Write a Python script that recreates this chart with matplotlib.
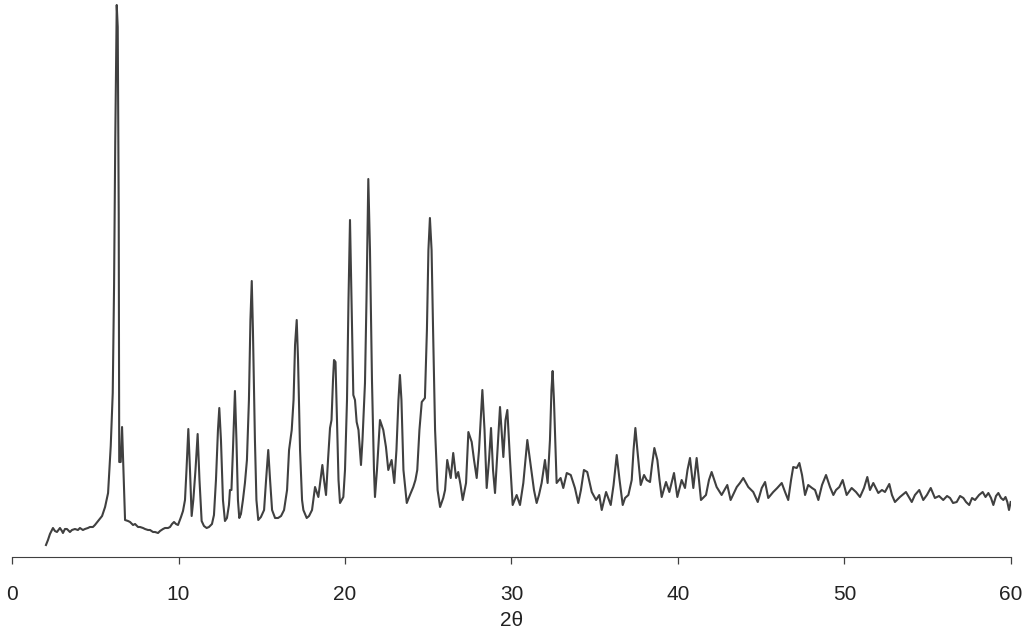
import numpy as np
import matplotlib
matplotlib.use("Agg")
import matplotlib.pyplot as plt

# powder pattern, split into 2-theta ranges
tt_a = [2.04, 2.16, 2.28, 2.46, 2.58, 2.70, 2.88, 3.00, 3.06, 3.18, 3.30, 3.48, 3.60, 3.78, 3.96,
        4.08, 4.26, 4.38, 4.56, 4.68, 4.86, 4.98, 5.17, 5.41, 5.59, 5.77, 5.93, 6.05, 6.13, 6.20,
        6.29, 6.35, 6.41, 6.44, 6.53, 6.61, 6.68, 6.79, 6.97, 7.09, 7.27, 7.39, 7.57, 7.69, 7.87,
        7.99, 8.17, 8.29, 8.47, 8.59, 8.77, 8.89, 9.07, 9.19, 9.37, 9.49, 9.61, 9.73, 9.85, 9.97]
int_a = [12, 17, 23, 29, 26, 25, 29, 26, 24, 28, 28, 25, 27, 28, 27,
         29, 27, 28, 29, 30, 30, 32, 36, 41, 50, 64, 111, 164, 271, 414,
         552, 530, 343, 95, 95, 130, 93, 37, 36, 35, 32, 33, 30, 30, 29,
         28, 27, 27, 25, 25, 24, 26, 28, 29, 29, 30, 33, 35, 33, 32]

tt_b = [10.15, 10.27, 10.39, 10.48, 10.59, 10.69, 10.79, 10.89, 11.02, 11.15, 11.26, 11.39, 11.53,
        11.69, 11.83, 12.01, 12.13, 12.25, 12.37, 12.45, 12.55, 12.67, 12.79, 12.91, 13.03, 13.09,
        13.18, 13.27, 13.39, 13.48, 13.57, 13.65, 13.75, 13.87, 13.99, 14.11, 14.23, 14.32, 14.40,
        14.47, 14.59, 14.68, 14.79, 14.95, 15.14, 15.26, 15.39, 15.50, 15.62, 15.80, 15.98, 16.16,
        16.34, 16.52, 16.64, 16.80, 16.91, 17.00, 17.10, 17.18, 17.30, 17.42, 17.50, 17.70, 17.84,
        18.02, 18.20, 18.40, 18.53, 18.64, 18.74, 18.86, 18.98, 19.10, 19.19, 19.28, 19.34, 19.43,
        19.52, 19.61, 19.70, 19.90]
int_b = [40, 46, 57, 87, 128, 87, 41, 57, 87, 123, 77, 36, 31,
         29, 30, 33, 42, 77, 127, 149, 117, 57, 36, 39, 52, 67,
         67, 107, 166, 117, 57, 39, 43, 57, 74, 97, 157, 237, 276,
         227, 117, 57, 37, 40, 47, 77, 107, 77, 47, 39, 39, 41,
         47, 67, 107, 127, 157, 212, 237, 197, 107, 57, 47, 39, 41,
         47, 70, 60, 77, 92, 77, 62, 97, 129, 137, 177, 197, 195,
         137, 77, 54, 60]

tt_c = [20.00, 20.12, 20.21, 20.30, 20.39, 20.50, 20.60, 20.70, 20.81, 20.96, 21.05, 21.20, 21.29,
        21.40, 21.50, 21.62, 21.74, 21.80, 21.92, 22.10, 22.30, 22.46, 22.60, 22.80, 22.96, 23.09,
        23.21, 23.30, 23.39, 23.51, 23.71, 23.90, 24.10, 24.23, 24.34, 24.47, 24.61, 24.80, 24.92,
        25.01, 25.10, 25.20, 25.29, 25.41, 25.56, 25.71, 25.90, 26.01, 26.14, 26.35, 26.50, 26.67,
        26.80, 26.94, 27.07, 27.27, 27.41, 27.61, 27.75, 27.91, 28.05, 28.25, 28.38, 28.51, 28.65,
        28.77, 28.89, 29.01, 29.16, 29.31, 29.51, 29.64, 29.75, 29.91]
int_c = [87, 157, 257, 337, 257, 162, 157, 135, 127, 92, 117, 174, 257,
         378, 307, 177, 87, 60, 87, 137, 127, 110, 87, 97, 74, 107,
         157, 182, 157, 87, 54, 62, 70, 77, 87, 127, 155, 159, 227,
         307, 339, 307, 227, 127, 67, 50, 59, 67, 97, 79, 104, 79,
         85, 72, 57, 74, 125, 115, 97, 79, 107, 167, 127, 69, 97,
         129, 87, 64, 107, 150, 100, 137, 147, 97]

tt_d = [30.07, 30.31, 30.51, 30.71, 30.95, 31.21, 31.35, 31.51, 31.65, 31.81, 32.01, 32.17, 32.31,
        32.40, 32.47, 32.55, 32.71, 32.95, 33.11, 33.32, 33.56, 33.81, 34.01, 34.17, 34.35, 34.55,
        34.82, 35.08, 35.27, 35.42, 35.68, 35.96, 36.13, 36.32, 36.49, 36.68, 36.82, 37.02, 37.22,
        37.33, 37.44, 37.56, 37.76, 37.96, 38.12, 38.32, 38.44, 38.58, 38.76, 38.89, 39.02, 39.28,
        39.48, 39.76, 39.96, 40.22, 40.42, 40.57, 40.72, 40.92, 41.12, 41.26, 41.38, 41.68, 41.86,
        42.02, 42.32, 42.62, 42.96, 43.16, 43.53, 43.72, 43.92, 44.22, 44.52, 44.79]
int_d = [52, 62, 52, 74, 117, 84, 67, 54, 62, 74, 97, 74, 117,
         167, 186, 157, 74, 79, 69, 84, 82, 69, 54, 67, 87, 85,
         65, 57, 62, 47, 65, 52, 72, 102, 77, 52, 59, 62, 77,
         107, 129, 107, 72, 82, 77, 75, 92, 109, 97, 77, 60, 75,
         65, 84, 60, 77, 69, 87, 99, 69, 99, 77, 57, 62, 77,
         85, 70, 62, 72, 57, 70, 74, 79, 70, 65, 55]

tt_e = [45.03, 45.23, 45.42, 45.72, 45.96, 46.23, 46.43, 46.62, 46.79, 46.92, 47.13, 47.29, 47.45,
        47.63, 47.82, 48.05, 48.23, 48.43, 48.65, 48.89, 49.13, 49.33, 49.49, 49.69, 49.89, 50.13,
        50.43, 50.69, 50.93, 51.17, 51.37, 51.53, 51.73, 52.03, 52.25, 52.43, 52.69, 52.85, 53.03,
        53.33, 53.69, 54.04, 54.23, 54.49, 54.73, 54.95, 55.18, 55.43, 55.68, 55.93, 56.16, 56.34,
        56.52, 56.74, 56.94, 57.14, 57.30, 57.49, 57.66, 57.84, 58.08, 58.30, 58.47, 58.64, 58.80,
        58.94, 59.10, 59.24, 59.40, 59.54, 59.67, 59.78, 59.88, 59.98]
int_e = [69, 75, 59, 65, 69, 74, 65, 57, 77, 90, 89, 94, 82,
         62, 72, 69, 67, 57, 72, 82, 70, 62, 67, 70, 77, 62,
         69, 65, 60, 69, 80, 67, 74, 64, 67, 65, 73, 62, 55,
         60, 65, 55, 62, 67, 57, 62, 69, 59, 61, 57, 61, 59,
         54, 55, 61, 59, 55, 52, 59, 57, 62, 65, 60, 64, 59,
         52, 61, 64, 59, 57, 60, 55, 47, 55]

x_ticks = [0, 10, 20, 30, 40, 50, 60]

two_theta = np.concatenate([tt_a, tt_b, tt_c, tt_d, tt_e])
intensity = np.concatenate([int_a, int_b, int_c, int_d, int_e])

plt.rcParams["font.family"] = ["Liberation Sans", "DejaVu Sans"]

fig = plt.figure(figsize=(10.24, 6.35), dpi=100)
ax = fig.add_axes([12 / 1024, 78 / 635, 999 / 1024, 557 / 635])

ax.plot(two_theta, intensity, color="#404040", linewidth=1.5)

ax.set_xlim(0, 60)
ax.set_ylim(0, 557)
ax.set_xticks(x_ticks)
ax.set_yticks([])
for side in ["top", "right", "left"]:
    ax.spines[side].set_visible(False)
ax.spines["bottom"].set_color("#404040")
ax.tick_params(axis="x", direction="out", length=5, width=0.9, color="#404040",
               labelsize=15, pad=15, labelcolor="#222222")
ax.set_xlabel("2\u03b8", fontsize=15, color="#222222", labelpad=5)

fig.savefig("out.png", dpi=100)
